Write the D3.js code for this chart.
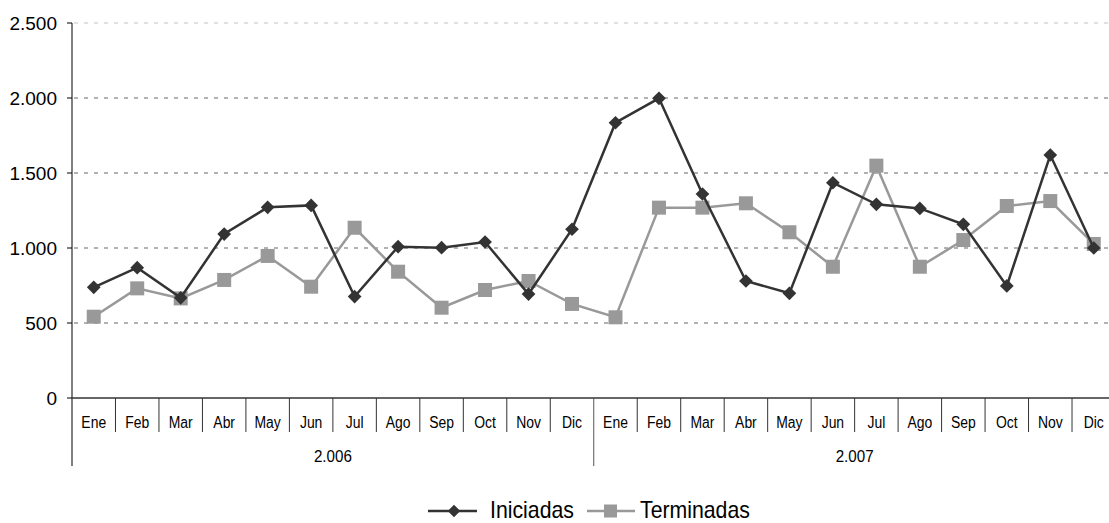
<!DOCTYPE html>
<html>
<head>
<meta charset="utf-8">
<script src="https://cdn.jsdelivr.net/npm/d3@7"></script>
<style>
  body { margin: 0; background: #fff; }
  text { font-family: "Liberation Sans", Arial, sans-serif; }
</style>
</head>
<body>
<div id="chart"></div>
<script>
var months = ["Ene","Feb","Mar","Abr","May","Jun","Jul","Ago","Sep","Oct","Nov","Dic"];
var years = ["2.006","2.007"];
var iniciadas = [738,869,668,1093,1271,1284,676,1009,1002,1040,693,1125,
                 1835,1998,1360,780,698,1435,1291,1264,1158,747,1620,1000];
var terminadas = [542,731,664,787,947,742,1135,842,602,720,780,627,
                  538,1269,1269,1298,1105,875,1549,875,1053,1280,1313,1027];
var yTicks = [0,500,1000,1500,2000,2500];

var width = 1109, height = 523;
var mLeft = 72, mRight = 1115.5, mTop = 23, mBottom = 398;

var svg = d3.select("#chart").append("svg")
  .attr("width", width).attr("height", height);

var cats = d3.range(iniciadas.length);
var x = d3.scaleBand().domain(cats).range([mLeft, mRight]).padding(0);
var y = d3.scaleLinear().domain([0, 2500]).range([mBottom, mTop]);
var fmt = function(d){ return d3.format(",")(d).replace(/,/g, "."); };

// gridlines
svg.selectAll("line.grid").data(yTicks.filter(function(d){ return d > 0; }))
  .enter().append("line")
  .attr("x1", mLeft + 2).attr("x2", width)
  .attr("y1", function(d){ return y(d); }).attr("y2", function(d){ return y(d); })
  .attr("stroke", function(d){ return d == 2500 ? "#d8d8d8" : "#999"; })
  .attr("stroke-width", 1.5)
  .attr("stroke-dasharray", "4,6");

// y axis
svg.append("line").attr("x1", mLeft).attr("x2", mLeft)
  .attr("y1", mTop).attr("y2", 466).attr("stroke", "#000").attr("stroke-width", 1);
svg.selectAll("line.ytick").data(yTicks).enter().append("line")
  .attr("x1", mLeft - 5).attr("x2", mLeft)
  .attr("y1", function(d){ return y(d); }).attr("y2", function(d){ return y(d); })
  .attr("stroke", "#000");
svg.selectAll("text.ylab").data(yTicks).enter().append("text")
  .attr("x", 57).attr("y", function(d){ return y(d); })
  .attr("dy", "0.35em")
  .attr("text-anchor", "end")
  .style("font-size", "19px")
  .text(fmt);

// x axis
svg.append("line").attr("x1", mLeft).attr("x2", width)
  .attr("y1", mBottom).attr("y2", mBottom).attr("stroke", "#333").attr("stroke-width", 1.5);
svg.selectAll("line.xsep").data(cats.slice(1)).enter().append("line")
  .attr("x1", function(d){ return x(d); }).attr("x2", function(d){ return x(d); })
  .attr("y1", mBottom).attr("y2", function(d){ return d == 12 ? 466 : 432; })
  .attr("stroke", function(d){ return d == 12 ? "#555" : "#333"; });
svg.selectAll("text.mlab").data(cats).enter().append("text")
  .attr("transform", function(d){
    return "translate(" + (x(d) + x.bandwidth() / 2) + ",427.5) scale(0.87,1)"; })
  .attr("text-anchor", "middle")
  .style("font-size", "16px")
  .text(function(d){ return months[d % 12]; });
svg.selectAll("text.yrlab").data(years).enter().append("text")
  .attr("transform", function(d, i){
    var mx = (x(i * 12) + x(i * 12 + 11) + x.bandwidth()) / 2;
    return "translate(" + mx + ",461.5) scale(0.93,1)"; })
  .attr("text-anchor", "middle")
  .style("font-size", "16.3px")
  .text(function(d){ return d; });

var cx = function(d, i){ return x(i) + x.bandwidth() / 2; };
var line = d3.line().x(cx).y(function(d){ return y(d); });

// Terminadas
svg.append("path").datum(terminadas).attr("d", line)
  .attr("fill", "none").attr("stroke", "#999").attr("stroke-width", 2.5);
svg.selectAll("rect.ter").data(terminadas).enter().append("rect")
  .attr("x", function(d, i){ return cx(d, i) - 7; })
  .attr("y", function(d){ return y(d) - 7; })
  .attr("width", 14).attr("height", 14)
  .attr("fill", "#999");

// Iniciadas
svg.append("path").datum(iniciadas).attr("d", line)
  .attr("fill", "none").attr("stroke", "#333").attr("stroke-width", 2.5);
var diamond = d3.symbol().type(d3.symbolDiamond2).size(120);
svg.selectAll("path.ini").data(iniciadas).enter().append("path")
  .attr("d", diamond)
  .attr("transform", function(d, i){ return "translate(" + cx(d, i) + "," + y(d) + ")"; })
  .attr("fill", "#333");

// legend
var ly = 511;
svg.append("line").attr("x1", 428).attr("x2", 477).attr("y1", ly).attr("y2", ly)
  .attr("stroke", "#333").attr("stroke-width", 2.5);
svg.append("path").attr("d", d3.symbol().type(d3.symbolDiamond2).size(100))
  .attr("transform", "translate(454," + ly + ")").attr("fill", "#333");
svg.append("text").attr("transform", "translate(490,518) scale(0.925,1)")
  .style("font-size", "23px").text("Iniciadas");
svg.append("line").attr("x1", 587).attr("x2", 635).attr("y1", ly).attr("y2", ly)
  .attr("stroke", "#999").attr("stroke-width", 2.5);
svg.append("rect").attr("x", 604).attr("y", ly - 6.5).attr("width", 13).attr("height", 13)
  .attr("fill", "#999");
svg.append("text").attr("transform", "translate(640,518) scale(0.925,1)")
  .style("font-size", "23px").text("Terminadas");
</script>
</body>
</html>
